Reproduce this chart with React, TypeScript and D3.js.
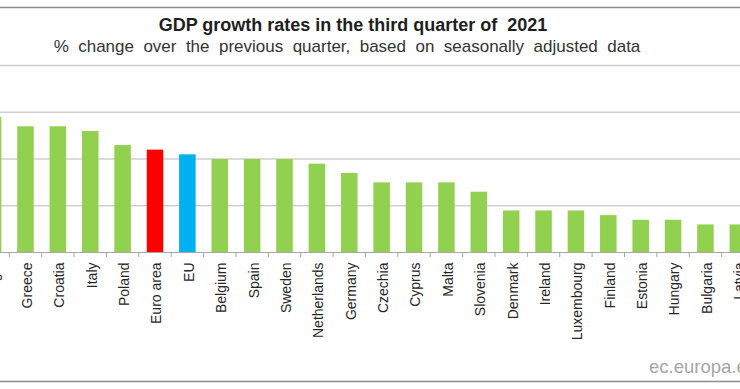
import React, { useEffect, useRef } from 'react'
import * as d3 from 'd3'

// countries, in the order they appear on the chart (first and last are cut by the frame)
const countries = [
  'Portugal', 'Greece', 'Croatia', 'Italy', 'Poland', 'Euro area', 'EU', 'Belgium', 'Spain',
  'Sweden', 'Netherlands', 'Germany', 'Czechia', 'Cyprus', 'Malta', 'Slovenia', 'Denmark',
  'Ireland', 'Luxembourg', 'Finland', 'Estonia', 'Hungary', 'Bulgaria', 'Latvia',
]
// % change over the previous quarter
const growth = [
  2.9, 2.7, 2.7, 2.6, 2.3, 2.2, 2.1, 2.0, 2.0,
  2.0, 1.9, 1.7, 1.5, 1.5, 1.5, 1.3, 0.9,
  0.9, 0.9, 0.8, 0.7, 0.7, 0.6, 0.6,
]
const yTicks = [0, 1, 2, 3, 4]

const title = 'GDP growth rates in the third quarter of\u00a0 2021'
const subtitle = '% change over the previous quarter, based on seasonally adjusted data'

const W = 740
const H = 389

const App = () => {
  const ref = useRef<SVGSVGElement>(null)

  useEffect(() => {
    const svg = d3.select(ref.current)
    svg.selectAll('*').remove()

    const x = d3.scaleBand()
      .domain(countries)
      .range([-23.1, -23.1 + countries.length * 32.38])
      .paddingInner(0.49)
      .paddingOuter(0.245)

    const y = d3.scaleLinear()
      .domain([0, 4])
      .range([252.5, 65.5])

    // frame lines
    svg.append('line')
      .attr('x1', 0).attr('x2', W)
      .attr('y1', 7.5).attr('y2', 7.5)
      .attr('stroke', '#8c8c8c')
      .attr('stroke-width', 1.5)
    svg.append('line')
      .attr('x1', 0).attr('x2', W)
      .attr('y1', 381.5).attr('y2', 381.5)
      .attr('stroke', '#8c8c8c')
      .attr('stroke-width', 1.5)

    // titles
    svg.append('text')
      .attr('x', 353)
      .attr('y', 31)
      .attr('text-anchor', 'middle')
      .attr('font-family', 'Liberation Sans, Arial, sans-serif')
      .attr('font-size', 18)
      .attr('font-weight', 'bold')
      .attr('fill', '#1e1e1e')
      .text(title)
    svg.append('text')
      .attr('x', 347)
      .attr('y', 52)
      .attr('text-anchor', 'middle')
      .attr('font-family', 'Liberation Sans, Arial, sans-serif')
      .attr('font-size', 17)
      .attr('word-spacing', 4.7)
      .attr('fill', '#333')
      .text(subtitle)

    // gridlines
    svg.append('g')
      .selectAll('line')
      .data(yTicks.slice(1))
      .join('line')
        .attr('x1', 0).attr('x2', W)
        .attr('y1', d => y(d)).attr('y2', d => y(d))
        .attr('stroke', '#cfcfcf')
        .attr('stroke-width', 1.5)

    // bars
    svg.append('g')
      .selectAll('rect')
      .data(countries)
      .join('rect')
        .attr('x', d => x(d)!)
        .attr('y', (d, i) => y(growth[i]))
        .attr('width', x.bandwidth())
        .attr('height', (d, i) => y(0) - y(growth[i]))
        .attr('fill', d => d === 'Euro area' ? '#ff0000' : d === 'EU' ? '#00b0f0' : '#92d050')

    // x axis with ticks between the bars
    const step = x.step()
    const axis = svg.append('g')
    axis.append('line')
      .attr('x1', 0).attr('x2', W)
      .attr('y1', y(0)).attr('y2', y(0))
      .attr('stroke', '#a6a6a6')
      .attr('stroke-width', 1)
    axis.selectAll('.tick')
      .data(countries)
      .join('line')
        .attr('class', 'tick')
        .attr('x1', d => x(d)! + x.bandwidth() / 2 + step / 2)
        .attr('x2', d => x(d)! + x.bandwidth() / 2 + step / 2)
        .attr('y1', y(0)).attr('y2', y(0) + 4.5)
        .attr('stroke', '#a6a6a6')
        .attr('stroke-width', 1)
    axis.selectAll('.label')
      .data(countries)
      .join('text')
        .attr('class', 'label')
        .attr('transform', d => `translate(${x(d)! + x.bandwidth() / 2 + 1.5},262.5) rotate(-90)`)
        .attr('dy', '0.35em')
        .attr('text-anchor', 'end')
        .attr('font-family', 'Liberation Sans, Arial, sans-serif')
        .attr('font-size', 14)
        .attr('fill', '#262626')
        .text(d => d)

    // source
    svg.append('text')
      .attr('x', 649)
      .attr('y', 373)
      .attr('font-family', 'Liberation Sans, Arial, sans-serif')
      .attr('font-size', 18.5)
      .attr('fill', '#a6a6a6')
      .text('ec.europa.eu')
  }, [])

  return (
    <svg
      ref={ref}
      width={W}
      height={H}
      style={{ position: 'absolute', left: 0, top: 0, background: '#fff', overflow: 'hidden' }}
    />
  )
}

export default App
